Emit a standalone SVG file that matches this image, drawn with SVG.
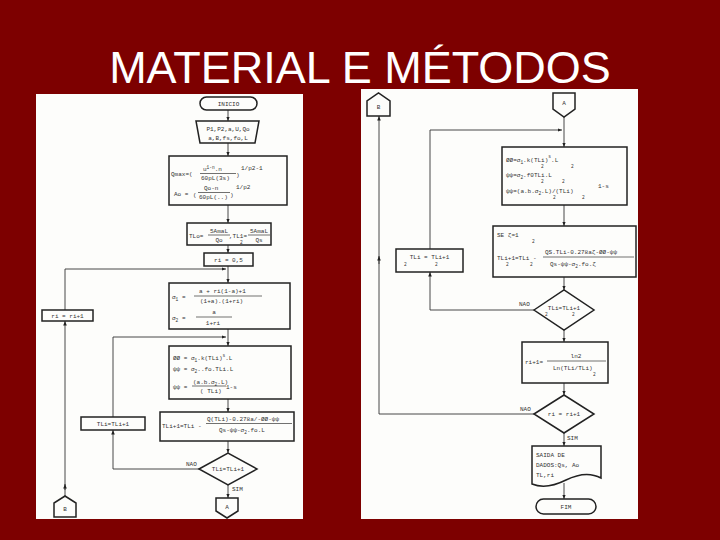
<svg xmlns="http://www.w3.org/2000/svg" width="720" height="540" viewBox="0 0 720 540">
<defs>
<style>
.bg{fill:#7d0000}
.panel{fill:#fdfdfb}
.title{font-family:"Liberation Sans",Arial,sans-serif;font-size:45px;fill:#ffffff}
.bx{fill:none;stroke:#222;stroke-width:1.5}
.ln{fill:none;stroke:#333;stroke-width:0.9}
.fr{stroke:#333;stroke-width:0.7}
.t{font-family:"Liberation Mono","DejaVu Sans Mono",monospace;font-size:6px;fill:#333}
.s{font-family:"Liberation Mono","DejaVu Sans Mono",monospace;font-size:4.5px;fill:#333}
.m{text-anchor:middle}
</style>
<marker id="ah" viewBox="0 0 10 10" refX="10" refY="5" markerWidth="5" markerHeight="5" orient="auto"><path d="M0,1 L10,5 L0,9 z" fill="#222"/></marker>
</defs>
<rect class="bg" x="0" y="0" width="720" height="540"/>
<text class="title" x="360" y="83" text-anchor="middle">MATERIAL E MÉTODOS</text>
<rect class="panel" x="36" y="94" width="267" height="425"/>
<rect class="panel" x="361" y="89" width="277" height="430"/>

<g id="connectors">
<path class="ln" d="M228,110 V121" marker-end="url(#ah)"/>
<path class="ln" d="M228,143 V156" marker-end="url(#ah)"/>
<path class="ln" d="M228,205 V223" marker-end="url(#ah)"/>
<path class="ln" d="M228,245 V253" marker-end="url(#ah)"/>
<path class="ln" d="M228,266 V283" marker-end="url(#ah)"/>
<path class="ln" d="M228,329 V346" marker-end="url(#ah)"/>
<path class="ln" d="M228,399 V412" marker-end="url(#ah)"/>
<path class="ln" d="M228,441 V453" marker-end="url(#ah)"/>
<path class="ln" d="M228,485 V498" marker-end="url(#ah)"/>
<path class="ln" d="M65,310 V269 H226" marker-end="url(#ah)"/>
<path class="ln" d="M65,496 V321" marker-end="url(#ah)"/>
<path class="ln" d="M65,490 V484" marker-end="url(#ah)"/>
<path class="ln" d="M113,417 V337 H226" marker-end="url(#ah)"/>
<path class="ln" d="M199,469 H113 V430" marker-end="url(#ah)"/>
<path class="ln" d="M564,117 V147" marker-end="url(#ah)"/>
<path class="ln" d="M430,249 V130 H562" marker-end="url(#ah)"/>
<path class="ln" d="M564,205 V226" marker-end="url(#ah)"/>
<path class="ln" d="M534,310 H430 V272" marker-end="url(#ah)"/>
<path class="ln" d="M564,277 V290" marker-end="url(#ah)"/>
<path class="ln" d="M564,330 V342" marker-end="url(#ah)"/>
<path class="ln" d="M564,383 V395" marker-end="url(#ah)"/>
<path class="ln" d="M534,414 H379 V116" marker-end="url(#ah)"/>
<path class="ln" d="M379,264 V256" marker-end="url(#ah)"/>
<path class="ln" d="M564,433 V446" marker-end="url(#ah)"/>
<path class="ln" d="M564,483 V499" marker-end="url(#ah)"/>
<text class="t" x="186" y="466">NAO</text>
<text class="t" x="232" y="491">SIM</text>
<text class="t" x="519" y="306">NAO</text>
<text class="t" x="520" y="411">NAO</text>
<text class="t" x="567" y="440">SIM</text>
</g>

<g id="inicio">
<rect class="bx" x="200" y="97" width="57" height="13" rx="6.5"/>
<text class="t m" x="228.5" y="106">INICIO</text>
</g>
<g id="entrada">
<path class="bx" d="M196,121 H259 L255,143 H200 Z"/>
<text class="t m" x="228" y="131">P1,P2,a,U,Qo</text>
<text class="t m" x="228" y="140">a,B,fs,fo,L</text>
</g>
<g id="qmax">
<rect class="bx" x="169" y="156" width="118" height="49"/>
<text class="t" x="171" y="176">Qmax=(</text>
<text class="t" x="203" y="171">u<tspan class="s" dy="-2">1-n</tspan><tspan dy="2">.n</tspan></text>
<line class="fr" x1="200" y1="173.5" x2="236" y2="173.5"/>
<text class="t" x="201" y="180">60pL(3s)</text>
<text class="t" x="236" y="177">)</text>
<text class="t" x="241" y="170">1/p2-1</text>
<text class="t" x="174" y="196">Ao =</text>
<text class="t" x="193" y="197">(</text>
<text class="t" x="204" y="190">Qo-n</text>
<line class="fr" x1="198" y1="192.5" x2="230" y2="192.5"/>
<text class="t" x="199" y="199">60pL(..)</text>
<text class="t" x="230" y="197">)</text>
<text class="t" x="236" y="189">1/p2</text>
</g>
<g id="tl0">
<rect class="bx" x="187" y="223" width="84" height="22"/>
<text class="t" x="189" y="238">TLo=</text>
<text class="t m" x="219" y="233">5AmaL</text>
<line class="fr" x1="208" y1="235" x2="230" y2="235"/>
<text class="t m" x="219" y="242">Qo</text>
<text class="t" x="229" y="238">,TL1=</text>
<text class="s" x="240" y="244">2</text>
<text class="t m" x="259" y="233">5AmaL</text>
<line class="fr" x1="248" y1="235" x2="270" y2="235"/>
<text class="t m" x="259" y="242">Qs</text>
</g>
<g id="ri0">
<rect class="bx" x="204" y="253" width="49" height="13"/>
<text class="t m" x="228.5" y="262">ri = 0,5</text>
</g>
<g id="sigma">
<rect class="bx" x="169" y="283" width="121" height="46"/>
<text class="t" x="172" y="299">σ<tspan class="s" dy="1.5">1</tspan><tspan dy="-1.5"> =</tspan></text>
<text class="t" x="199" y="293">a + ri(1-a)+1</text>
<line class="fr" x1="194" y1="296" x2="262" y2="296"/>
<text class="t" x="200" y="303">(1+a).(1+ri)</text>
<text class="t" x="172" y="320">σ<tspan class="s" dy="1.5">2</tspan><tspan dy="-1.5"> =</tspan></text>
<text class="t m" x="214" y="314">a</text>
<line class="fr" x1="196" y1="317" x2="232" y2="317"/>
<text class="t m" x="213" y="325">1+ri</text>
</g>
<g id="ri-inc">
<rect class="bx" x="42" y="310" width="51" height="11"/>
<text class="t m" x="67.5" y="318">ri = ri+1</text>
</g>
<g id="phi">
<rect class="bx" x="169" y="346" width="122" height="53"/>
<text class="t" x="173" y="360">ØØ = σ<tspan class="s" dy="1.5">1</tspan><tspan dy="-1.5">.k(TLi)</tspan><tspan class="s" dy="-3">s</tspan><tspan dy="3">.L</tspan></text>
<text class="t" x="173" y="371">ψψ = σ<tspan class="s" dy="1.5">2</tspan><tspan dy="-1.5">..fo.TLi.L</tspan></text>
<text class="t" x="173" y="389">ψψ =</text>
<text class="t" x="193" y="384">(a.b.σ<tspan class="s" dy="1.5">2</tspan><tspan dy="-1.5">.L)</tspan></text>
<line class="fr" x1="192" y1="386" x2="226" y2="386"/>
<text class="t" x="200" y="393">( TLi)</text>
<text class="t" x="226" y="389">1-s</text>
</g>
<g id="tl-next">
<rect class="bx" x="160" y="412" width="134" height="29"/>
<text class="t" x="162" y="428">TLi+1=TLi -</text>
<text class="t" x="207" y="421">Q(TLi)-0.278a/-ØØ-ψψ</text>
<line class="fr" x1="206" y1="423.5" x2="292" y2="423.5"/>
<text class="t" x="219" y="432">Qs-ψψ-σ<tspan class="s" dy="1.5">2</tspan><tspan dy="-1.5">.fo.L</tspan></text>
</g>
<g id="tl-inc">
<rect class="bx" x="81" y="417" width="64" height="13"/>
<text class="t m" x="113" y="426">TLi=TLi+1</text>
</g>
<g id="dec1">
<path class="bx" d="M199,469 L228,453 L257,469 L228,485 Z"/>
<text class="t m" x="228" y="471">TLi=TLi+1</text>
</g>
<g id="conA-left">
<path class="bx" d="M216,498 H238 V511 L227,518 L216,511 Z"/>
<text class="t m" x="227" y="509">A</text>
</g>
<g id="conB-left">
<path class="bx" d="M54,517 V503 L65,496 L76,503 V517 Z"/>
<text class="t m" x="65" y="511">B</text>
</g>

<g id="conB-right">
<path class="bx" d="M367,116 V101 L378.5,93 L390,101 V116 Z"/>
<text class="t m" x="378.5" y="109">B</text>
</g>
<g id="conA-right">
<path class="bx" d="M553,93 H575 V109 L564,117 L553,109 Z"/>
<text class="t m" x="564" y="105">A</text>
</g>
<g id="phi-half">
<rect class="bx" x="502" y="147" width="125" height="58"/>
<text class="t" x="506" y="162">ØØ=σ<tspan class="s" dy="1.5">1</tspan><tspan dy="-1.5">.k(TLi)</tspan><tspan class="s" dy="-4">s</tspan><tspan dy="4">.L</tspan></text>
<text class="s" x="541" y="168">2</text>
<text class="s" x="571" y="168">2</text>
<text class="t" x="506" y="177">ψψ=σ<tspan class="s" dy="1.5">2</tspan><tspan dy="-1.5">.f0TLi.L</tspan></text>
<text class="s" x="541" y="183">2</text>
<text class="s" x="562" y="183">2</text>
<text class="t" x="506" y="193">ψψ=(a.b.σ<tspan class="s" dy="1.5">2</tspan><tspan dy="-1.5">.L)/(TLi)</tspan></text>
<text class="s" x="553" y="199">2</text>
<text class="s" x="582" y="199">2</text>
<text class="t" x="598" y="188">1-s</text>
</g>
<g id="tl-half">
<rect class="bx" x="493" y="226" width="143" height="51"/>
<text class="t" x="497" y="237">SE   ζ=1</text>
<text class="s" x="532" y="243">2</text>
<text class="t" x="497" y="260">TLi+1=TLi -</text>
<text class="s" x="506" y="266">2</text>
<text class="s" x="530" y="266">2</text>
<text class="t" x="545" y="254">QS.TLi-0.278aζ-ØØ-ψψ</text>
<line class="fr" x1="543" y1="257" x2="634" y2="257"/>
<text class="t" x="550" y="266">Qs-ψψ-σ<tspan class="s" dy="1.5">2</tspan><tspan dy="-1.5">.fo.ζ</tspan></text>
</g>
<g id="tl-half-inc">
<rect class="bx" x="396" y="249" width="67" height="23"/>
<text class="t m" x="429.5" y="259">TLi = TLi+1</text>
<text class="s" x="404" y="266">2</text>
<text class="s" x="435" y="266">2</text>
</g>
<g id="dec2">
<path class="bx" d="M534,310 L564,290 L594,310 L564,330 Z"/>
<text class="t m" x="564" y="310">TLi=TLi+1</text>
<text class="s" x="545" y="316">2</text>
<text class="s" x="572" y="316">2</text>
</g>
<g id="ri-next">
<rect class="bx" x="522" y="342" width="86" height="41"/>
<text class="t" x="525" y="364">ri+1=</text>
<text class="t m" x="576" y="358">ln2</text>
<line class="fr" x1="547" y1="361" x2="606" y2="361"/>
<text class="t" x="553" y="370">Ln(TLi/TLi)</text>
<text class="s" x="593" y="376">2</text>
</g>
<g id="dec3">
<path class="bx" d="M534,414 L564,395 L594,414 L564,433 Z"/>
<text class="t m" x="564" y="416">ri = ri+1</text>
</g>
<g id="saida">
<path class="bx" d="M532,446 H601 V478 C590,472 578,474 566,480 C554,486 542,488 532,484 Z"/>
<text class="t" x="536" y="457">SAIDA DE</text>
<text class="t" x="536" y="467">DADOS:Qs, Ao</text>
<text class="t" x="536" y="477">TL,ri</text>
</g>
<g id="fim">
<rect class="bx" x="536" y="499" width="60" height="15" rx="7.5"/>
<text class="t m" x="566" y="509">FIM</text>
</g>
</svg>
